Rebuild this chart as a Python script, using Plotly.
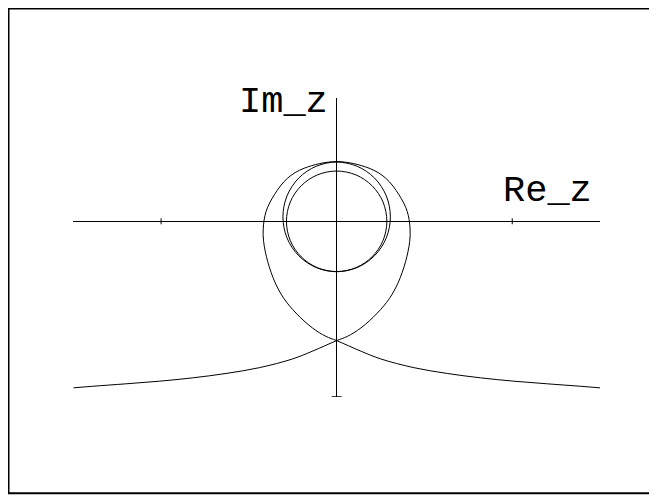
import plotly.graph_objects as go

# points (Re_z, Im_z)
tail_left_x = [-1.50, -1.39, -1.20, -1.01, -0.82, -0.63, -0.44, -0.25, -0.14, 0.0]
tail_left_y = [-0.948, -0.939, -0.925, -0.910, -0.891, -0.866, -0.833, -0.783, -0.740, -0.679]

loop_right_x = [0.061, 0.138, 0.232, 0.300, 0.350, 0.393, 0.416, 0.418, 0.402, 0.355, 0.280, 0.185, 0.0]
loop_right_y = [-0.655, -0.607, -0.522, -0.440, -0.350, -0.228, -0.115, -0.039, 0.056, 0.151, 0.245, 0.302, 0.340]

loop_left_x = [-0.185, -0.280, -0.355, -0.402, -0.418, -0.416, -0.393, -0.350, -0.300, -0.232, -0.138, -0.061, 0.0]
loop_left_y = [0.302, 0.245, 0.151, 0.056, -0.039, -0.115, -0.228, -0.350, -0.440, -0.522, -0.607, -0.655, -0.679]

tail_right_x = [0.14, 0.25, 0.44, 0.63, 0.82, 1.01, 1.20, 1.39, 1.50]
tail_right_y = [-0.740, -0.783, -0.833, -0.866, -0.891, -0.910, -0.925, -0.939, -0.948]

inner_x = [0.286, 0.264, 0.202, 0.110, 0.0, -0.110, -0.202, -0.264, -0.286,
           -0.264, -0.202, -0.110, 0.0, 0.110, 0.202, 0.264, 0.286]
inner_y = [0.0, 0.110, 0.202, 0.264, 0.286, 0.264, 0.202, 0.110, 0.0,
           -0.110, -0.202, -0.264, -0.286, -0.264, -0.202, -0.110, 0.0]

middle_x = [0.306, 0.283, 0.216, 0.117, 0.0, -0.117, -0.216, -0.283, -0.306,
            -0.283, -0.216, -0.117, 0.0, 0.117, 0.216, 0.283, 0.306]
middle_y = [0.025, 0.144, 0.246, 0.313, 0.337, 0.313, 0.246, 0.144, 0.025,
            -0.094, -0.196, -0.263, -0.287, -0.263, -0.196, -0.094, 0.025]

x_ticks = [-1, 1]
y_ticks = [-1]

loop_x = tail_left_x + loop_right_x + loop_left_x + tail_right_x
loop_y = tail_left_y + loop_right_y + loop_left_y + tail_right_y

# the page body has an 8px margin, so the figure is 8px smaller than the window
W, H = 649, 487

fig = go.Figure()
line = dict(color="black", width=1, shape="spline", smoothing=1)
for xs, ys in [(loop_x, loop_y), (inner_x, inner_y), (middle_x, middle_y)]:
    fig.add_trace(go.Scatter(x=xs, y=ys, mode="lines", line=line, hoverinfo="skip"))

# small tick marks on the axes through the origin
for t in x_ticks:
    fig.add_shape(type="line", xref="x", yref="y", x0=t, x1=t,
                  ysizemode="pixel", yanchor=0, y0=-3, y1=3,
                  line=dict(color="black", width=1))
for t in y_ticks:
    fig.add_shape(type="line", xref="x", yref="y", y0=t, y1=t,
                  xsizemode="pixel", xanchor=0, x0=-5, x1=5,
                  line=dict(color="black", width=1.5))

# frame around the whole picture
fig.add_shape(type="rect", xref="paper", yref="paper",
              x0=0.5 / W, x1=647 / W, y0=(H - 485.3) / H, y1=(H - 0.5) / H,
              line=dict(color="black", width=2))

font = dict(family="Courier New, Liberation Mono, monospace", size=37, color="black")
fig.add_annotation(x=1.20, y=0.17, text="Re_z", showarrow=False, font=font,
                   xanchor="center", yanchor="middle")
fig.add_annotation(x=-0.30, y=0.68, text="Im_z", showarrow=False, font=font,
                   xanchor="center", yanchor="middle")

axis = dict(showgrid=False, showticklabels=False, ticks="", showline=False,
            zeroline=True, zerolinecolor="black", zerolinewidth=1.4)
fig.update_layout(
    width=W, height=H,
    margin=dict(l=0, r=0, t=0, b=0),
    paper_bgcolor="white", plot_bgcolor="white",
    showlegend=False,
    xaxis=dict(axis, range=[-1.5, 1.5], domain=[65.3 / W, 592 / W]),
    yaxis=dict(axis, range=[-1.0, 0.70], domain=[(H - 389) / H, (H - 90.3) / H]),
)

fig.write_html("out.html")
